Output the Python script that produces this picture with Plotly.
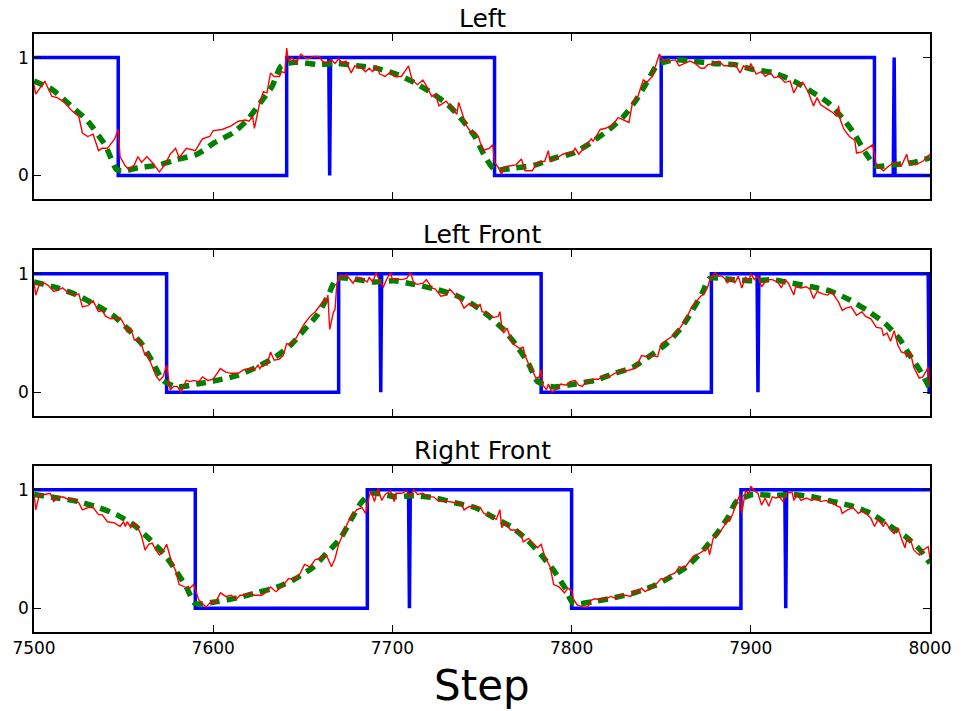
import plotly.graph_objects as go

# ---------------- data ----------------
titles = ["Left", "Left Front", "Right Front"]
x_ticks = [7500, 7600, 7700, 7800, 7900, 8000]
y_ticks = [0, 1]

# Left
left_blue_x = [7500, 7547, 7547, 7641, 7641, 7664.5, 7665, 7665.5, 7757, 7757, 7850, 7850, 7969, 7969, 7979.5, 7980, 7980.5, 8000]
left_blue_y = [1, 1, 0, 0, 1, 1, 0, 1, 1, 0, 0, 1, 1, 0, 0, 1, 0, 0]
left_green_x = [7500, 7510, 7520, 7530, 7540, 7546, 7550, 7558, 7570, 7580, 7591, 7601, 7611, 7619, 7626, 7633, 7638, 7646,
                7659, 7669, 7680, 7691, 7702, 7712, 7722, 7731, 7739, 7746, 7751, 7757, 7769, 7780, 7791, 7801, 7811, 7821,
                7829, 7836, 7842, 7848, 7857, 7868, 7879, 7891, 7901, 7913, 7924, 7934, 7943, 7951, 7958, 7964, 7970, 7980,
                7991, 8000]
left_green_y = [0.80, 0.73, 0.60, 0.46, 0.25, 0.05, 0.04, 0.065, 0.09, 0.135, 0.18, 0.28, 0.36, 0.47, 0.61, 0.76, 0.93, 0.96,
                0.94, 0.95, 0.93, 0.91, 0.86, 0.79, 0.70, 0.60, 0.47, 0.33, 0.18, 0.05, 0.065, 0.09, 0.15, 0.19, 0.28, 0.39,
                0.50, 0.64, 0.79, 0.94, 0.98, 0.97, 0.95, 0.94, 0.90, 0.87, 0.80, 0.71, 0.62, 0.49, 0.35, 0.19, 0.08, 0.09,
                0.11, 0.15]
left_red_x = [7500, 7501, 7506, 7510, 7513, 7517, 7521, 7525, 7527, 7530, 7533, 7536, 7538, 7541, 7545, 7547, 7548, 7551,
              7553, 7556, 7558, 7560, 7563, 7566, 7570, 7573, 7576, 7579, 7581, 7585, 7590, 7594, 7598, 7600, 7605, 7610,
              7614, 7618, 7620, 7622, 7623, 7626, 7628, 7630, 7632, 7634, 7637, 7638, 7640, 7641, 7642, 7644, 7646, 7648,
              7649, 7651, 7653, 7656, 7659, 7661, 7663, 7666, 7668, 7670, 7672, 7674, 7677, 7679, 7683, 7685, 7687, 7689,
              7691, 7693, 7696, 7699, 7701, 7705, 7709, 7711, 7714, 7717, 7719, 7722, 7724, 7726, 7730, 7734, 7736, 7737,
              7739, 7741, 7744, 7746, 7748, 7749, 7751, 7752, 7754, 7756, 7757, 7759, 7761, 7762, 7765, 7769, 7772, 7774,
              7778, 7781, 7785, 7787, 7788, 7792, 7795, 7798, 7800, 7802, 7804, 7808, 7811, 7812, 7816, 7819, 7823, 7826,
              7829, 7832, 7834, 7837, 7840, 7842, 7845, 7847, 7849, 7851, 7854, 7858, 7860, 7863, 7866, 7869, 7872, 7874,
              7876, 7880, 7882, 7885, 7888, 7891, 7894, 7896, 7899, 7900, 7903, 7906, 7908, 7911, 7913, 7916, 7919, 7922,
              7924, 7926, 7929, 7932, 7935, 7937, 7939, 7943, 7946, 7948, 7949, 7950, 7952, 7955, 7958, 7959, 7962, 7965,
              7968, 7970, 7974, 7977, 7980, 7984, 7987, 7988, 7992, 7996, 7999, 8000]
left_red_y = [0.77, 0.69, 0.80, 0.67, 0.66, 0.62, 0.55, 0.50, 0.36, 0.33, 0.35, 0.21, 0.23, 0.23, 0.31, 0.39, 0.16, 0.08,
              0.05, 0.09, 0.16, 0.11, 0.16, 0.11, 0.03, 0.09, 0.18, 0.23, 0.15, 0.23, 0.21, 0.31, 0.33, 0.38, 0.39, 0.42,
              0.46, 0.47, 0.46, 0.50, 0.40, 0.62, 0.71, 0.70, 0.87, 0.84, 0.84, 0.88, 0.87, 1.08, 0.97, 1.00, 0.95, 1.01,
              1.03, 1.00, 0.99, 1.01, 1.01, 0.97, 0.95, 0.98, 0.95, 0.99, 0.95, 0.97, 0.87, 0.93, 0.91, 0.88, 0.91, 0.88,
              0.93, 0.86, 0.84, 0.88, 0.84, 0.84, 0.93, 0.81, 0.77, 0.81, 0.76, 0.67, 0.69, 0.59, 0.63, 0.55, 0.52, 0.62,
              0.53, 0.43, 0.36, 0.37, 0.33, 0.28, 0.21, 0.22, 0.23, 0.26, 0.11, 0.07, 0.01, 0.07, 0.08, 0.09, 0.14, 0.04,
              0.04, 0.11, 0.12, 0.21, 0.12, 0.15, 0.18, 0.19, 0.18, 0.23, 0.18, 0.26, 0.31, 0.29, 0.39, 0.40, 0.43, 0.49,
              0.47, 0.45, 0.62, 0.67, 0.81, 0.79, 0.84, 0.93, 1.03, 0.97, 0.97, 0.98, 0.93, 0.95, 0.97, 0.95, 0.91, 0.91,
              0.94, 0.95, 0.97, 0.93, 0.93, 0.95, 0.87, 0.93, 0.90, 0.95, 0.86, 0.88, 0.84, 0.87, 0.83, 0.84, 0.79, 0.80,
              0.70, 0.76, 0.79, 0.71, 0.59, 0.66, 0.60, 0.56, 0.53, 0.50, 0.59, 0.47, 0.39, 0.33, 0.30, 0.19, 0.20, 0.23,
              0.26, 0.09, 0.04, 0.08, 0.11, 0.08, 0.18, 0.11, 0.09, 0.12, 0.16, 0.18]

# Left Front
lf_blue_x = [7500, 7574, 7574, 7670, 7670, 7693, 7693.5, 7694, 7783, 7783, 7878, 7878, 7903.5, 7904, 7904.5, 7999, 7999.5, 8000]
lf_blue_y = [1, 1, 0, 0, 1, 1, 0, 1, 1, 0, 0, 1, 1, 0, 1, 1, 0, 0]
lf_green_x = [7500, 7513, 7524, 7534, 7544, 7552, 7560, 7566, 7572, 7580, 7591, 7602, 7613, 7624, 7635, 7644, 7651, 7658,
              7664, 7669, 7681, 7690, 7701, 7712, 7724, 7735, 7745, 7754, 7762, 7769, 7776, 7781, 7790, 7802, 7813, 7824,
              7834, 7844, 7853, 7861, 7867, 7873, 7877, 7890, 7901, 7912, 7923, 7934, 7945, 7955, 7965, 7975, 7983, 7988,
              7995, 8000]
lf_green_y = [0.93, 0.88, 0.82, 0.74, 0.65, 0.54, 0.41, 0.26, 0.10, 0.045, 0.07, 0.10, 0.14, 0.21, 0.30, 0.41, 0.53, 0.65,
              0.81, 0.96, 0.95, 0.93, 0.94, 0.91, 0.87, 0.82, 0.74, 0.64, 0.53, 0.40, 0.24, 0.09, 0.045, 0.07, 0.10, 0.16,
              0.21, 0.31, 0.41, 0.54, 0.68, 0.84, 0.96, 0.95, 0.94, 0.95, 0.92, 0.89, 0.85, 0.78, 0.69, 0.58, 0.45, 0.33,
              0.17, 0.03]
lf_red_x = [7500, 7501, 7503, 7506, 7508, 7511, 7513, 7516, 7519, 7523, 7525, 7527, 7530, 7533, 7536, 7538, 7540, 7543,
            7548, 7550, 7552, 7554, 7556, 7558, 7560, 7562, 7563, 7565, 7568, 7570, 7572, 7574, 7575, 7576, 7578, 7580,
            7582, 7585, 7587, 7589, 7592, 7594, 7597, 7600, 7604, 7607, 7610, 7614, 7617, 7620, 7623, 7625, 7626, 7628,
            7630, 7632, 7634, 7637, 7639, 7641, 7643, 7646, 7649, 7651, 7654, 7657, 7660, 7662, 7663, 7664, 7665, 7667,
            7668, 7669, 7671, 7673, 7674, 7676, 7678, 7680, 7683, 7686, 7687, 7689, 7691, 7693, 7695, 7697, 7699, 7700,
            7702, 7705, 7708, 7710, 7712, 7714, 7717, 7719, 7722, 7724, 7727, 7730, 7732, 7735, 7737, 7740, 7743, 7746,
            7749, 7750, 7753, 7756, 7759, 7760, 7761, 7762, 7764, 7766, 7768, 7771, 7773, 7774, 7776, 7778, 7780, 7782,
            7783, 7784, 7786, 7787, 7789, 7792, 7794, 7797, 7799, 7802, 7804, 7806, 7808, 7811, 7812, 7815, 7818, 7821,
            7824, 7826, 7828, 7830, 7833, 7836, 7839, 7842, 7845, 7848, 7850, 7853, 7856, 7859, 7862, 7864, 7867, 7869,
            7872, 7874, 7876, 7877, 7880, 7882, 7884, 7886, 7887, 7889, 7891, 7893, 7895, 7897, 7899, 7900, 7902, 7904,
            7906, 7908, 7910, 7912, 7915, 7917, 7919, 7921, 7924, 7925, 7928, 7931, 7933, 7935, 7937, 7940, 7943, 7945,
            7947, 7949, 7951, 7953, 7956, 7959, 7962, 7964, 7967, 7970, 7973, 7974, 7976, 7978, 7980, 7982, 7984, 7986,
            7987, 7989, 7991, 7994, 7996, 7999, 8000]
lf_red_y = [0.93, 0.82, 0.91, 0.92, 0.90, 0.85, 0.86, 0.88, 0.84, 0.82, 0.83, 0.72, 0.73, 0.77, 0.68, 0.69, 0.64, 0.62,
            0.63, 0.58, 0.51, 0.54, 0.44, 0.45, 0.40, 0.31, 0.33, 0.26, 0.14, 0.10, 0.13, 0.23, 0.12, 0.02, 0.05, 0.05,
            0.00, 0.10, 0.09, 0.10, 0.09, 0.13, 0.10, 0.11, 0.20, 0.17, 0.16, 0.16, 0.19, 0.20, 0.19, 0.23, 0.20, 0.24,
            0.23, 0.34, 0.27, 0.28, 0.31, 0.41, 0.40, 0.45, 0.53, 0.58, 0.64, 0.68, 0.74, 0.78, 0.76, 0.82, 0.53, 0.67,
            0.70, 0.92, 0.99, 0.97, 0.99, 0.96, 0.92, 0.97, 0.96, 0.93, 0.97, 0.93, 1.01, 0.93, 0.89, 0.96, 1.01, 0.95,
            0.96, 0.95, 0.96, 1.01, 0.92, 0.91, 0.92, 0.95, 0.88, 0.87, 0.81, 0.82, 0.87, 0.82, 0.80, 0.71, 0.75, 0.72,
            0.74, 0.68, 0.67, 0.63, 0.64, 0.68, 0.55, 0.50, 0.54, 0.45, 0.40, 0.37, 0.38, 0.31, 0.24, 0.19, 0.12, 0.13,
            0.19, 0.06, 0.02, 0.07, 0.00, 0.03, 0.07, 0.06, 0.09, 0.10, 0.06, 0.05, 0.09, 0.10, 0.11, 0.11, 0.14, 0.13,
            0.16, 0.17, 0.19, 0.18, 0.19, 0.21, 0.31, 0.30, 0.31, 0.30, 0.41, 0.44, 0.47, 0.51, 0.57, 0.62, 0.72, 0.76,
            0.81, 0.83, 0.89, 0.94, 1.01, 0.98, 0.98, 0.95, 0.92, 0.97, 0.92, 0.98, 0.88, 0.97, 0.94, 1.00, 0.95, 0.98,
            0.89, 0.93, 0.95, 0.95, 0.93, 0.88, 0.95, 0.92, 0.82, 0.89, 0.88, 0.89, 0.87, 0.79, 0.85, 0.83, 0.82, 0.85,
            0.81, 0.76, 0.69, 0.71, 0.72, 0.65, 0.68, 0.64, 0.62, 0.55, 0.54, 0.48, 0.50, 0.43, 0.52, 0.40, 0.34, 0.33,
            0.30, 0.34, 0.21, 0.12, 0.13, 0.21, 0.06]

# Right Front
rf_blue_x = [7500, 7590, 7590, 7686, 7686, 7709, 7709.5, 7710, 7800, 7800, 7894.5, 7894.5, 7919, 7919.5, 7920, 8000]
rf_blue_y = [1, 1, 0, 0, 1, 1, 0, 1, 1, 0, 0, 1, 1, 0, 1, 1]
rf_green_x = [7500, 7513, 7525, 7536, 7546, 7556, 7564, 7573, 7579, 7585, 7590, 7602, 7614, 7624, 7636, 7646, 7656, 7663,
              7671, 7677, 7683, 7689, 7702, 7712, 7724, 7735, 7746, 7756, 7766, 7775, 7783, 7790, 7796, 7801, 7812, 7824,
              7835, 7846, 7856, 7865, 7874, 7881, 7887, 7892, 7901, 7913, 7923, 7934, 7946, 7957, 7967, 7977, 7986, 7994,
              8000]
rf_green_y = [0.96, 0.93, 0.90, 0.85, 0.79, 0.70, 0.59, 0.45, 0.32, 0.18, 0.04, 0.056, 0.09, 0.13, 0.18, 0.25, 0.35, 0.46,
              0.59, 0.75, 0.90, 0.97, 0.94, 0.95, 0.93, 0.89, 0.85, 0.77, 0.69, 0.58, 0.45, 0.32, 0.18, 0.04, 0.056, 0.09,
              0.13, 0.19, 0.27, 0.36, 0.50, 0.63, 0.76, 0.90, 0.96, 0.95, 0.96, 0.94, 0.90, 0.86, 0.80, 0.70, 0.61, 0.50,
              0.38]
rf_red_x = [7500, 7501, 7503, 7506, 7509, 7511, 7513, 7516, 7519, 7522, 7525, 7527, 7530, 7533, 7536, 7538, 7541, 7545,
            7548, 7550, 7551, 7552, 7554, 7556, 7558, 7560, 7562, 7564, 7566, 7568, 7570, 7572, 7574, 7576, 7577, 7579,
            7581, 7584, 7587, 7589, 7591, 7592, 7594, 7596, 7599, 7601, 7604, 7607, 7610, 7613, 7615, 7618, 7620, 7623,
            7627, 7629, 7632, 7635, 7638, 7640, 7642, 7645, 7648, 7651, 7654, 7657, 7660, 7663, 7664, 7666, 7668, 7670,
            7672, 7675, 7677, 7680, 7683, 7685, 7687, 7688, 7690, 7692, 7694, 7696, 7699, 7701, 7702, 7705, 7708, 7710,
            7712, 7714, 7717, 7720, 7723, 7726, 7728, 7731, 7735, 7738, 7740, 7743, 7746, 7749, 7751, 7753, 7756, 7758,
            7760, 7761, 7763, 7766, 7769, 7771, 7773, 7776, 7778, 7781, 7783, 7785, 7787, 7788, 7790, 7793, 7796, 7798,
            7800, 7801, 7803, 7806, 7809, 7811, 7813, 7816, 7819, 7822, 7825, 7827, 7830, 7833, 7835, 7837, 7839, 7841,
            7844, 7847, 7850, 7852, 7855, 7858, 7860, 7863, 7865, 7868, 7871, 7874, 7876, 7877, 7879, 7882, 7885, 7887,
            7888, 7890, 7892, 7894, 7895, 7897, 7899, 7900, 7902, 7904, 7906, 7908, 7910, 7912, 7914, 7916, 7918, 7920,
            7923, 7924, 7926, 7928, 7931, 7934, 7937, 7939, 7942, 7945, 7948, 7950, 7951, 7954, 7957, 7960, 7962, 7965,
            7967, 7969, 7971, 7974, 7975, 7978, 7980, 7982, 7984, 7986, 7987, 7989, 7991, 7994, 7996, 7999, 8000]
rf_red_y = [0.97, 0.83, 0.96, 0.96, 0.97, 0.90, 0.93, 0.94, 0.92, 0.92, 0.89, 0.83, 0.85, 0.85, 0.79, 0.79, 0.73, 0.72,
            0.69, 0.73, 0.69, 0.73, 0.68, 0.72, 0.68, 0.61, 0.49, 0.54, 0.55, 0.49, 0.45, 0.48, 0.54, 0.42, 0.38, 0.32,
            0.20, 0.18, 0.17, 0.20, 0.10, 0.07, 0.04, 0.01, 0.06, 0.04, 0.13, 0.10, 0.11, 0.08, 0.11, 0.11, 0.13, 0.11,
            0.11, 0.13, 0.18, 0.14, 0.18, 0.21, 0.25, 0.24, 0.28, 0.37, 0.35, 0.41, 0.42, 0.45, 0.42, 0.35, 0.42, 0.54,
            0.61, 0.72, 0.77, 0.83, 0.85, 0.80, 0.94, 0.99, 0.90, 1.01, 0.91, 0.96, 0.99, 0.90, 0.97, 0.97, 0.99, 0.94,
            1.00, 0.96, 0.97, 0.94, 0.94, 0.90, 0.91, 0.90, 0.89, 0.89, 0.83, 0.86, 0.85, 0.85, 0.80, 0.79, 0.77, 0.75,
            0.83, 0.68, 0.72, 0.66, 0.66, 0.65, 0.56, 0.59, 0.55, 0.51, 0.54, 0.44, 0.38, 0.35, 0.20, 0.18, 0.13, 0.17,
            0.15, 0.08, 0.03, 0.01, 0.01, 0.07, 0.08, 0.07, 0.08, 0.10, 0.08, 0.11, 0.11, 0.10, 0.15, 0.13, 0.17, 0.14,
            0.17, 0.20, 0.25, 0.24, 0.28, 0.30, 0.35, 0.34, 0.38, 0.44, 0.46, 0.49, 0.52, 0.45, 0.59, 0.63, 0.69, 0.76,
            0.73, 0.80, 0.89, 0.96, 0.80, 0.99, 0.97, 1.03, 0.99, 0.97, 0.87, 0.93, 0.86, 0.94, 0.93, 0.94, 0.90, 0.97,
            0.98, 0.91, 0.96, 0.91, 0.93, 0.91, 0.93, 0.90, 0.91, 0.89, 0.87, 0.85, 0.80, 0.83, 0.85, 0.80, 0.82, 0.79,
            0.76, 0.69, 0.75, 0.69, 0.73, 0.66, 0.63, 0.68, 0.59, 0.51, 0.58, 0.58, 0.49, 0.45, 0.49, 0.52, 0.42]

panels = [
    (left_blue_x, left_blue_y, left_green_x, left_green_y, left_red_x, left_red_y),
    (lf_blue_x, lf_blue_y, lf_green_x, lf_green_y, lf_red_x, lf_red_y),
    (rf_blue_x, rf_blue_y, rf_green_x, rf_green_y, rf_red_x, rf_red_y),
]

# ---------------- layout geometry ----------------
W, H = 964, 711
ML, MR, MT, MB = 32, 27, 34, 79
plot_h = H - MT - MB
panel_px = [(34, 199), (250, 416), (466, 632)]

def to_paper(py):
    return (H - MB - py) / plot_h

FONT = "DejaVu Sans"

fig = go.Figure()
layout = dict(
    width=W, height=H,
    margin=dict(l=ML, r=MR, t=MT, b=MB, pad=0),
    paper_bgcolor="white", plot_bgcolor="white",
    showlegend=False,
    font=dict(family=FONT, size=17, color="black"),
)

annotations = []
for i, (bx, by, gx, gy, rx, ry) in enumerate(panels):
    n = i + 1
    xa = "x" if n == 1 else f"x{n}"
    ya = "y" if n == 1 else f"y{n}"
    fig.add_trace(go.Scatter(x=bx, y=by, mode="lines", xaxis=xa, yaxis=ya,
                             line=dict(color="#0000ff", width=3.5), hoverinfo="skip"))
    fig.add_trace(go.Scatter(x=gx, y=gy, mode="lines", xaxis=xa, yaxis=ya,
                             line=dict(color="#008000", width=5.5, dash="10px,7px", shape="spline", smoothing=0.6),
                             hoverinfo="skip"))
    fig.add_trace(go.Scatter(x=rx, y=ry, mode="lines", xaxis=xa, yaxis=ya,
                             line=dict(color="#ff0000", width=1.4), hoverinfo="skip"))
    top, bot = panel_px[i]
    dom = [to_paper(bot), to_paper(top)]
    last = (n == 3)
    layout["xaxis" if n == 1 else f"xaxis{n}"] = dict(
        domain=[0, 1], anchor=ya, range=[7500, 8000],
        tickvals=x_ticks, ticktext=[str(v) for v in x_ticks],
        showticklabels=last, ticks="inside", ticklen=7, tickwidth=1, tickcolor="black",
        showline=True, linecolor="black", linewidth=1.5, mirror="allticks",
        showgrid=False, zeroline=False, tickfont=dict(size=17, family=FONT),
    )
    layout["yaxis" if n == 1 else f"yaxis{n}"] = dict(
        domain=dom, anchor=xa, range=[-0.2, 1.2],
        tickvals=y_ticks, ticktext=[str(v) for v in y_ticks],
        ticks="inside", ticklen=7, tickwidth=1, tickcolor="black",
        showline=True, linecolor="black", linewidth=1.5, mirror="allticks",
        showgrid=False, zeroline=False, tickfont=dict(size=17, family=FONT),
    )
    annotations.append(dict(text=titles[i], xref="paper", yref="paper", x=0.5, y=to_paper(top - 16),
                            xanchor="center", yanchor="middle", showarrow=False,
                            font=dict(size=25, family=FONT, color="black")))

annotations.append(dict(text="Step", xref="paper", yref="paper", x=0.5, y=to_paper(685),
                        xanchor="center", yanchor="middle", showarrow=False, borderpad=0,
                        font=dict(size=42, family=FONT, color="black")))
layout["annotations"] = annotations
fig.update_layout(**layout)

fig.write_html("out.html", config={"displayModeBar": False})
